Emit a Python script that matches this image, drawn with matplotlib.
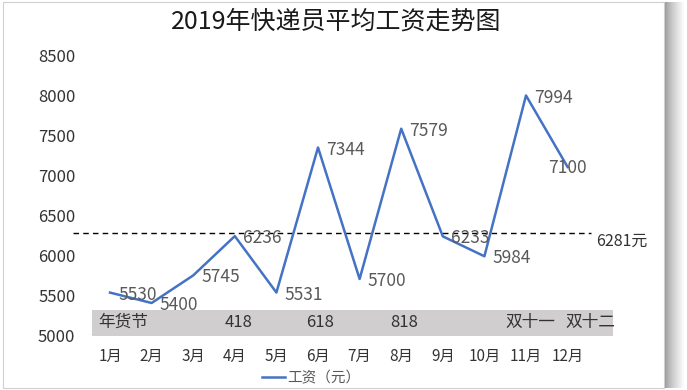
"""
plot.py
Recrea el gráfico "2019年快递员平均工资走势图" y lo guarda como out.png
"""

import matplotlib
matplotlib.use("Agg")
import matplotlib.pyplot as plt
from matplotlib.patches import Rectangle

plt.rcParams["font.family"] = ["Noto Sans CJK SC", "DejaVu Sans"]

#==============
#Datos
#==============

MONTHS = ["1月", "2月", "3月", "4月", "5月", "6月",
          "7月", "8月", "9月", "10月", "11月", "12月"]
SALARY = [5530, 5400, 5745, 6236, 5531, 7344, 5700, 7579, 6233, 5984, 7994, 7100]
AVERAGE = 6281

# festivos de compras (posición aproximada en meses, texto)
EVENT_POS = [0.71, 4.1, 6.04, 8.08, 11.1, 12.55]
EVENT_TEXT = ["年货节", "418", "618", "818", "双十一", "双十二"]

Y_TICKS = [5000, 5500, 6000, 6500, 7000, 7500, 8000, 8500]

LINE_COLOR = "#4472C4"
LABEL_COLOR = "#595959"
TEXT_COLOR = "#333333"

#==============
#Figura
#==============

fig = plt.figure(figsize=(6.87, 3.90), dpi=100)
fig.patch.set_facecolor("white")

# sombra suave a la derecha de la tarjeta
n = 20
for i in range(n):
    g = 0.62 + 0.38 * (i / (n - 1)) ** 0.8
    fig.patches.append(Rectangle(((665 + i) / 687, 0.004), 1.2 / 687, 0.99,
                                 transform=fig.transFigure, facecolor=(g, g, g),
                                 edgecolor="none", zorder=0))
fig.patches.append(Rectangle((0.004, 0.006), 664 / 687 - 0.004, 0.988, transform=fig.transFigure,
                             facecolor="white", edgecolor="#d0d0d0", linewidth=0.8, zorder=1))

ax = fig.add_axes([80.9 / 687, 55 / 390, 569.9 / 687, 280 / 390])
ax.set_facecolor("none")
ax.set_zorder(2)

x = list(range(1, len(MONTHS) + 1))

# banda gris con los festivos
ax.add_patch(Rectangle((0.57, 4990), 13.1 - 0.57, 325, facecolor="#D0CECE",
                       edgecolor="none", zorder=1, clip_on=False))
ax.plot([0.5, 12.5], [5000, 5000], color="#d9d9d9", linewidth=1, zorder=0.5)
for pos, txt in zip(EVENT_POS, EVENT_TEXT):
    ha = "left" if txt == "年货节" else "center"
    ax.text(pos, 5160, txt, ha=ha, va="center", fontsize=12, color=TEXT_COLOR, zorder=3)

# línea promedio
ax.plot([0.11, 12.57], [AVERAGE, AVERAGE], color="black", linestyle=(0, (4, 3)),
        linewidth=1, zorder=2, clip_on=False)
ax.text(12.69, AVERAGE - 106, f"{AVERAGE}元", ha="left", va="center",
        fontsize=11.5, color=TEXT_COLOR)

# serie de salarios
ax.plot(x, SALARY, color=LINE_COLOR, linewidth=1.8, zorder=4, label="工资（元）")
for xi, yi in zip(x, SALARY):
    if xi == len(MONTHS):
        ax.annotate(str(yi), (xi, yi), xytext=(0, -1), textcoords="offset points",
                    ha="center", va="center", fontsize=12.5, color=LABEL_COLOR, zorder=5)
    else:
        ax.annotate(str(yi), (xi, yi), xytext=(6, -1.5), textcoords="offset points",
                    ha="left", va="center", fontsize=12.5, color=LABEL_COLOR, zorder=5)

ax.set_xlim(0.3, 14)
ax.set_ylim(5000, 8500)
ax.set_yticks(Y_TICKS)
ax.set_yticklabels([str(v) for v in Y_TICKS], fontsize=12, color=TEXT_COLOR)
ax.set_xticks(x)
ax.set_xticklabels(MONTHS, fontsize=11, color=TEXT_COLOR)
ax.tick_params(axis="y", length=0, pad=4)
ax.tick_params(axis="x", length=0, pad=9)
for s in ax.spines.values():
    s.set_visible(False)

fig.text(336 / 687, 1 - 22 / 390, "2019年快递员平均工资走势图", ha="center", va="center",
         fontsize=18, color="#1a1a1a")

fig.legend(loc="center", bbox_to_anchor=(311 / 687, 1 - 378 / 390), frameon=False,
           fontsize=10.5, handlelength=1.6, handletextpad=0.1, labelcolor=LABEL_COLOR)

plt.savefig("out.png", dpi=100)
plt.close()
